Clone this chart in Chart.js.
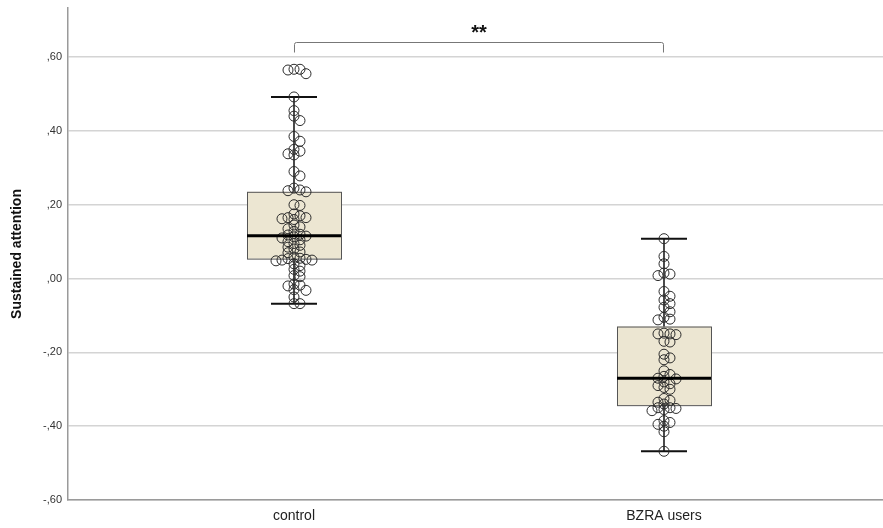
<!DOCTYPE html>
<html><head><meta charset="utf-8">
<script src="https://cdn.jsdelivr.net/npm/chart.js@4.4.0/dist/chart.umd.min.js"></script>
<style>html,body{margin:0;padding:0;background:#fff}#wrap{width:883px;height:528px}</style>
</head><body><div id="wrap"><canvas id="c" width="883" height="528"></canvas></div>
<script>
const categories = ['control', 'BZRA users'];
const controlValues = [0.567, 0.567, 0.565, 0.555, 0.492, 0.455, 0.44, 0.428, 0.385, 0.372,
  0.35, 0.345, 0.338, 0.335, 0.29, 0.278, 0.245, 0.24, 0.238, 0.235, 0.2, 0.198,
  0.175, 0.17, 0.165, 0.165, 0.162, 0.16, 0.145, 0.14, 0.135, 0.128, 0.12, 0.118,
  0.115, 0.113, 0.11, 0.105, 0.1, 0.095, 0.09, 0.085, 0.08, 0.072, 0.07, 0.058,
  0.055, 0.054, 0.052, 0.05, 0.05, 0.048, 0.04, 0.035, 0.025, 0.02, 0.008, 0.005,
  -0.015, -0.018, -0.02, -0.03, -0.032, -0.05, -0.068, -0.068];
const bzraValues = [0.108, 0.06, 0.04, 0.015, 0.012, 0.008, -0.035, -0.048, -0.058, -0.068,
  -0.078, -0.09, -0.105, -0.11, -0.112, -0.148, -0.15, -0.15, -0.152, -0.17, -0.172,
  -0.205, -0.215, -0.22, -0.25, -0.26, -0.265, -0.27, -0.272, -0.28, -0.285, -0.29,
  -0.295, -0.3, -0.325, -0.33, -0.335, -0.34, -0.35, -0.35, -0.352, -0.355, -0.358,
  -0.385, -0.39, -0.395, -0.4, -0.415, -0.468];
const q1 = [0.054, -0.343];
const median = [0.116, -0.270];
const q3 = [0.235, -0.130];
const whiskerLow = [-0.068, -0.468];
const whiskerHigh = [0.492, 0.108];
const yTicks = [-0.6, -0.4, -0.2, 0, 0.2, 0.4, 0.6];
const significance = '**';

Chart.defaults.font.family = "'Liberation Sans', Arial, sans-serif";

// beeswarm layout (pixel-based offsets converted to x units)
const PX_X = 370, PX_Y = 369.2, STEP = 6, MIN = 5.5;
function swarm(vals, center) {
  const placed = [], out = [];
  const sorted = vals.slice().sort((a, b) => b - a);
  for (const v of sorted) {
    const py = v * PX_Y;
    let dx = 0;
    for (let i = 0; i < 60; i++) {
      const cand = i === 0 ? 0 : (i % 2 ? 1 : -1) * Math.ceil(i / 2) * STEP;
      if (placed.every(p => Math.hypot(p.x - cand, p.y - py) >= MIN)) { dx = cand; break; }
    }
    placed.push({ x: dx, y: py });
    out.push({ x: center + dx / PX_X, y: v });
  }
  return out;
}

const fmt = v => {
  const a = Math.abs(v);
  const s = Math.round(a * 100).toString().padStart(2, '0');
  return (v < -1e-9 ? '-' : '') + ',' + s;
};

const boxPlugin = {
  id: 'boxes',
  beforeDatasetsDraw(chart) {
    const { ctx, scales: { x, y } } = chart;
    ctx.save();
    for (let i = 0; i < categories.length; i++) {
      const cx = x.getPixelForValue(i + 1);
      const t = y.getPixelForValue(q3[i]), b = y.getPixelForValue(q1[i]);
      ctx.fillStyle = '#ece6d2';
      ctx.fillRect(cx - 47, t, 94, b - t);
      ctx.strokeStyle = '#555';
      ctx.lineWidth = 1;
      ctx.strokeRect(cx - 47 + 0.5, t + 0.5, 94, b - t);
      ctx.strokeStyle = '#111';
      ctx.lineWidth = 1.5;
      const wh = y.getPixelForValue(whiskerHigh[i]), wl = y.getPixelForValue(whiskerLow[i]);
      ctx.beginPath();
      ctx.moveTo(cx, wh); ctx.lineTo(cx, t);
      ctx.moveTo(cx, b); ctx.lineTo(cx, wl);
      ctx.stroke();
      ctx.lineWidth = 2;
      ctx.beginPath();
      ctx.moveTo(cx - 23, wh); ctx.lineTo(cx + 23, wh);
      ctx.moveTo(cx - 23, wl); ctx.lineTo(cx + 23, wl);
      ctx.stroke();
    }
    ctx.restore();
  },
  afterDatasetsDraw(chart) {
    const { ctx, scales: { x, y } } = chart;
    ctx.save();
    ctx.strokeStyle = '#000';
    ctx.lineWidth = 3;
    for (let i = 0; i < categories.length; i++) {
      const cx = x.getPixelForValue(i + 1);
      const m = y.getPixelForValue(median[i]);
      ctx.beginPath(); ctx.moveTo(cx - 47, m); ctx.lineTo(cx + 47, m); ctx.stroke();
    }
    // significance bracket
    const x1 = x.getPixelForValue(1), x2 = x.getPixelForValue(2);
    const by = 42.5;
    ctx.strokeStyle = '#777';
    ctx.lineWidth = 1;
    ctx.beginPath();
    ctx.moveTo(x1 + 0.5, by + 10); ctx.lineTo(x1 + 0.5, by + 2);
    ctx.quadraticCurveTo(x1 + 0.5, by, x1 + 2.5, by);
    ctx.lineTo(x2 - 2.5, by);
    ctx.quadraticCurveTo(x2 - 0.5, by, x2 - 0.5, by + 2);
    ctx.lineTo(x2 - 0.5, by + 10);
    ctx.stroke();
    ctx.fillStyle = '#111';
    ctx.font = "bold 20px 'Liberation Sans', Arial, sans-serif";
    ctx.textAlign = 'center';
    ctx.textBaseline = 'middle';
    ctx.fillText(significance, (x1 + x2) / 2, 33);
    ctx.restore();
  }
};

new Chart(document.getElementById('c'), {
  type: 'scatter',
  data: {
    datasets: [
      { data: swarm(controlValues, 1) },
      { data: swarm(bzraValues, 2) }
    ].map(d => Object.assign(d, {
      pointRadius: 5, pointHoverRadius: 5, pointBorderWidth: 1,
      pointBorderColor: '#2b2b2b', pointBackgroundColor: 'rgba(0,0,0,0)', showLine: false
    }))
  },
  options: {
    responsive: false, animation: false, devicePixelRatio: 1,
    layout: { autoPadding: false, padding: { top: 8, right: 0, left: 0, bottom: 0 } },
    plugins: { legend: { display: false }, tooltip: { enabled: false } },
    scales: {
      x: {
        type: 'linear', min: 0.3892, max: 2.5919,
        grid: { display: false, drawTicks: false },
        border: { color: '#9a9a9a', width: 1.5 },
        afterBuildTicks: s => { s.ticks = [{ value: 1 }, { value: 2 }]; },
        ticks: { callback: v => categories[Math.round(v) - 1] ?? '', padding: 8, font: { size: 14 }, color: '#222', maxRotation: 0, autoSkip: false },
        afterFit: s => { s.height = 28; s.paddingLeft = 0; s.paddingRight = 0; }
      },
      y: {
        min: -0.6, max: 0.733,
        afterBuildTicks: s => { s.ticks = yTicks.map(v => ({ value: v })); },
        grid: { color: '#d4d4d4', lineWidth: 1.5, drawTicks: false },
        border: { color: '#9a9a9a', width: 1.5 },
        ticks: { callback: fmt, padding: 6, font: { size: 11 }, color: '#333' },
        title: { display: true, text: 'Sustained attention', font: { size: 14, weight: 'bold' }, color: '#111', padding: { top: 9, bottom: 0 } },
        afterFit: s => { s.width = 68; s.paddingTop = 0; s.paddingBottom = 0; }
      }
    }
  },
  plugins: [boxPlugin]
});
</script></body></html>
